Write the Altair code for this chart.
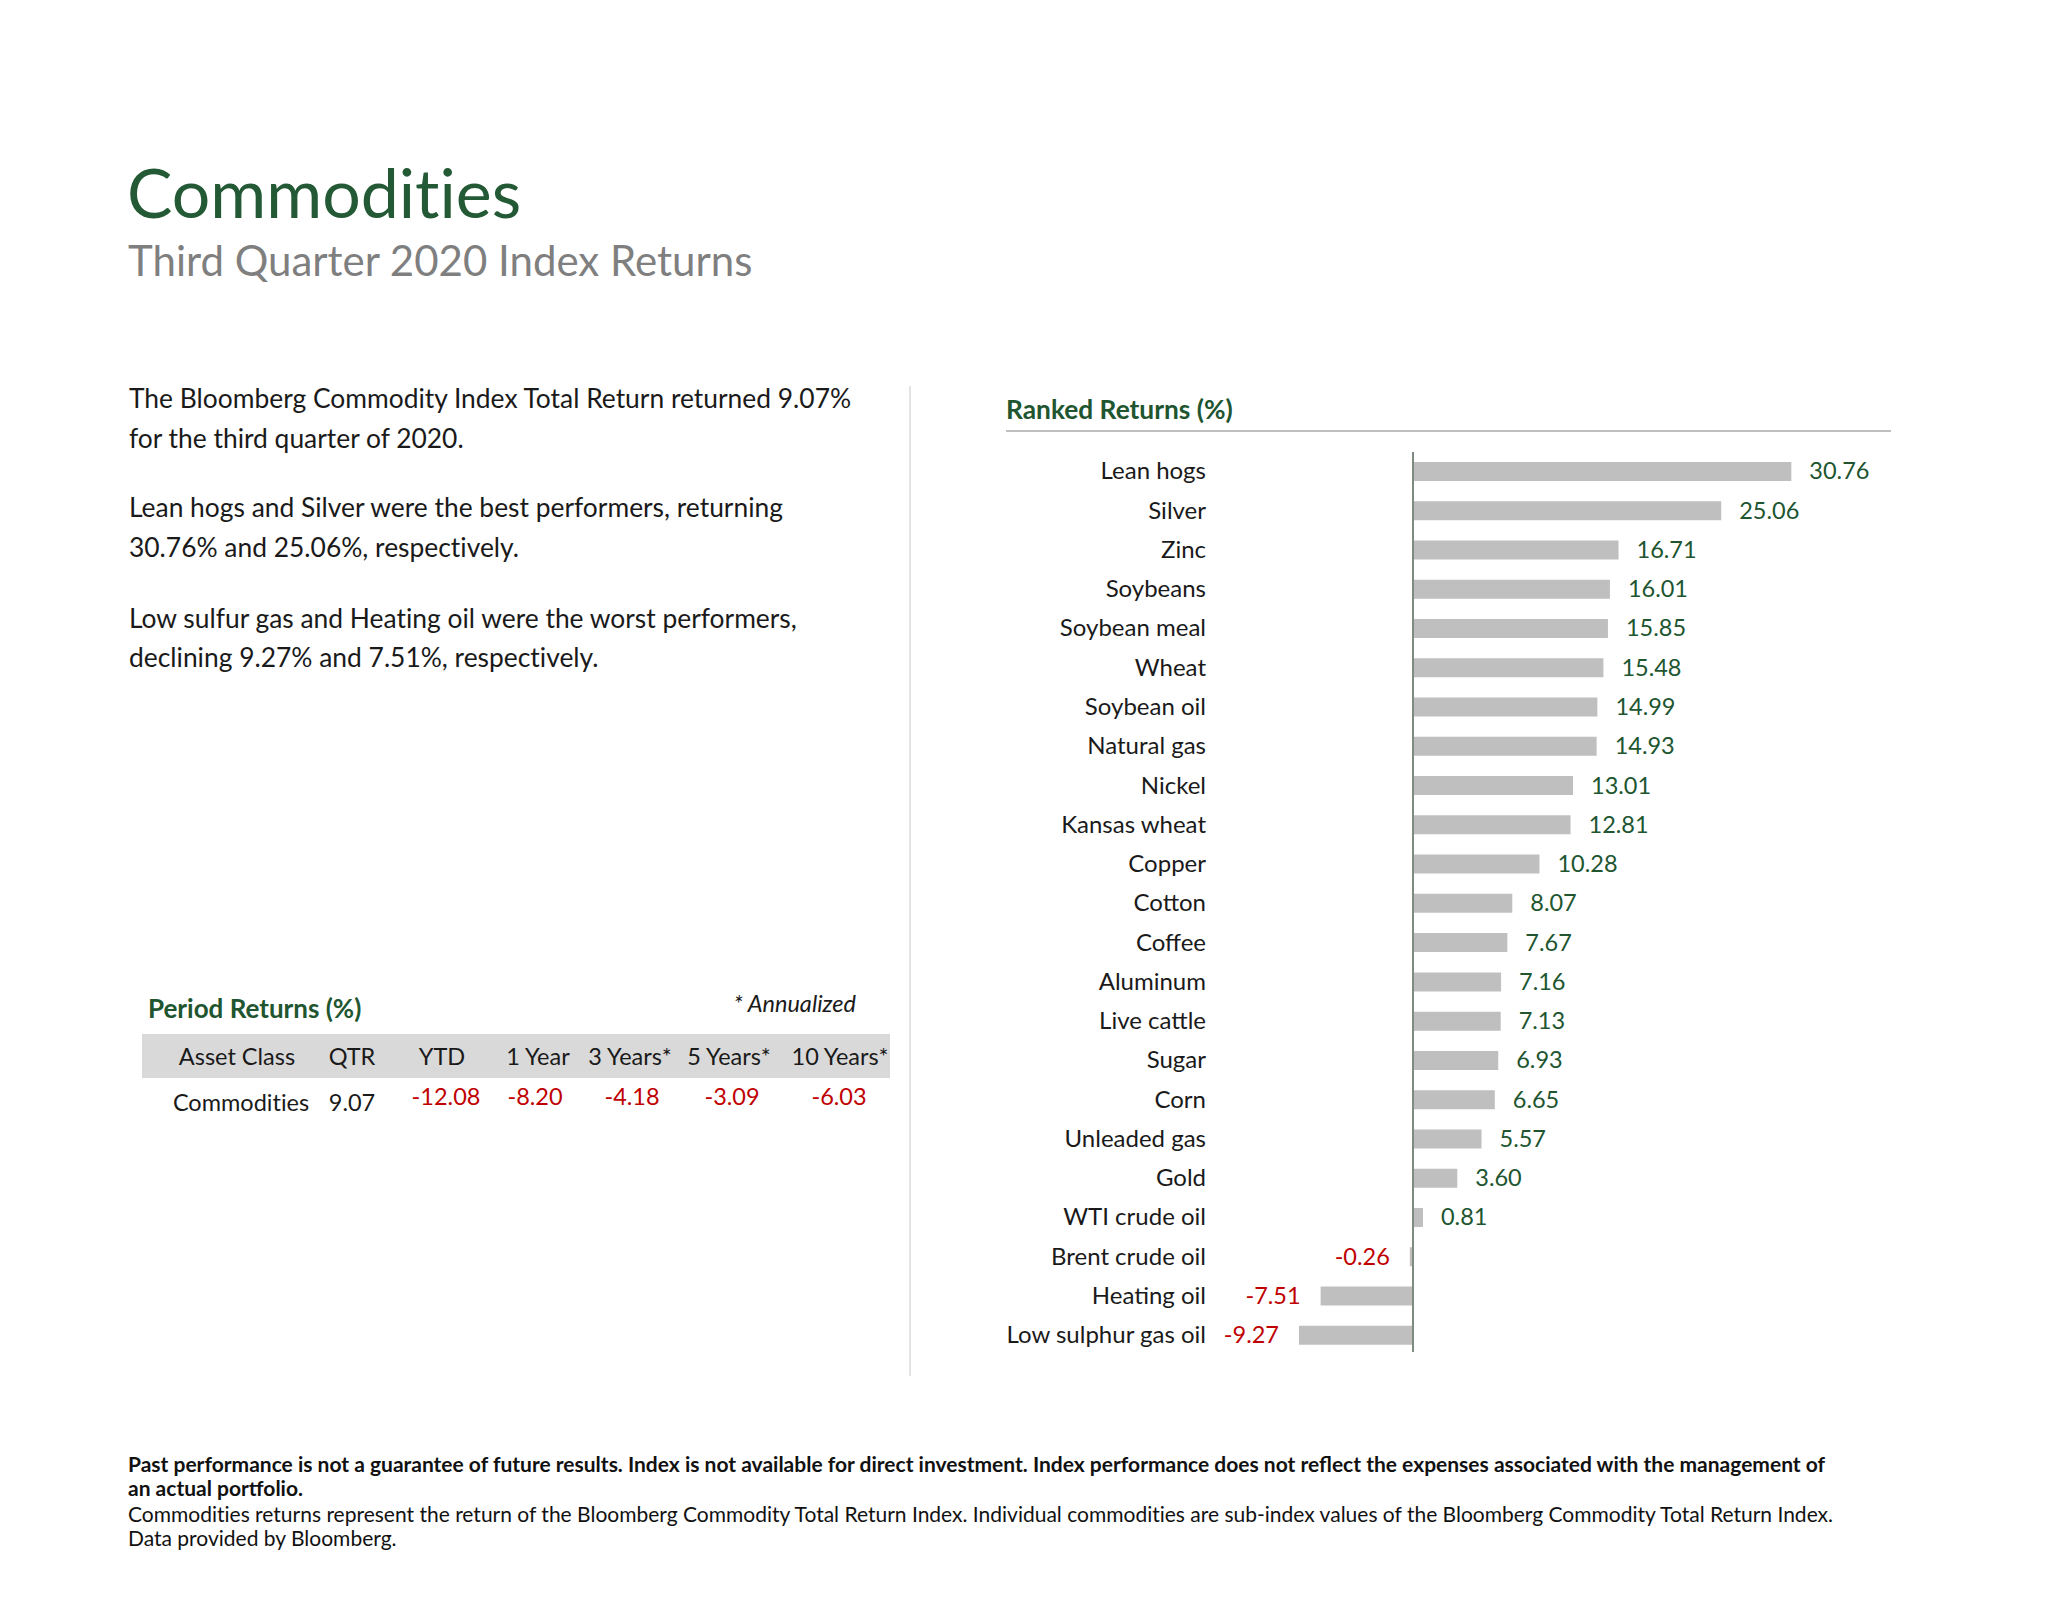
import altair as alt
import pandas as pd

# ---------------- data ----------------
commodities = ["Lean hogs", "Silver", "Zinc", "Soybeans", "Soybean meal", "Wheat",
               "Soybean oil", "Natural gas", "Nickel", "Kansas wheat", "Copper",
               "Cotton", "Coffee", "Aluminum", "Live cattle", "Sugar", "Corn",
               "Unleaded gas", "Gold", "WTI crude oil", "Brent crude oil",
               "Heating oil", "Low sulphur gas oil"]
returns = [30.76, 25.06, 16.71, 16.01, 15.85, 15.48, 14.99, 14.93, 13.01, 12.81,
           10.28, 8.07, 7.67, 7.16, 7.13, 6.93, 6.65, 5.57, 3.60, 0.81, -0.26,
           -7.51, -9.27]

period_cols = ["Asset Class", "QTR", "YTD", "1 Year", "3 Years*", "5 Years*", "10 Years*"]
period_asset = "Commodities"
period_vals = [9.07, -12.08, -8.20, -4.18, -3.09, -6.03]

title = "Commodities"
subtitle = "Third Quarter 2020 Index Returns"
body_lines = [
    "The Bloomberg Commodity Index Total Return returned 9.07%",
    "for the third quarter of 2020.",
    "Lean hogs and Silver were the best performers, returning",
    "30.76% and 25.06%, respectively.",
    "Low sulfur gas and Heating oil were the worst performers,",
    "declining 9.27% and 7.51%, respectively.",
]
footer_bold = [
    "Past performance is not a guarantee of future results. Index is not available for direct investment. Index performance does not reflect the expenses associated with the management of",
    "an actual portfolio.",
]
footer_plain = [
    "Commodities returns represent the return of the Bloomberg Commodity Total Return Index. Individual commodities are sub-index values of the Bloomberg Commodity Total Return Index.",
    "Data provided by Bloomberg.",
]

# ---------------- style ----------------
FONT = "Lato"
GREEN = "#20552f"
RED = "#c00000"
GRAY_TXT = "#7f7f7f"
BAR = "#bfbfbf"
TXT = "#1a1a1a"
W, H = 2040, 1570
ZWNJ = "\u200c"


def nolig(s):
    # break the Lato "ti" ligature so the text renders like the reference
    return s.replace("ti", "t" + ZWNJ + "i")


def txt(s, x, y, size, color=TXT, weight="normal", align="left", style="normal"):
    return alt.Chart(pd.DataFrame({"t": [nolig(s)]})).mark_text(
        align=align, baseline="alphabetic", font=FONT, fontSize=size,
        fontWeight=weight, fontStyle=style, color=color
    ).encode(x=alt.value(x), y=alt.value(y), text="t:N")


def hline(x1, x2, y, color, w):
    return alt.Chart(pd.DataFrame({"a": [0]})).mark_rule(color=color, strokeWidth=w).encode(
        x=alt.value(x1), x2=alt.value(x2), y=alt.value(y))


def vline(x, y1, y2, color, w):
    return alt.Chart(pd.DataFrame({"a": [0]})).mark_rule(color=color, strokeWidth=w).encode(
        x=alt.value(x), y=alt.value(y1), y2=alt.value(y2))


layers = []

# titles
layers.append(txt(title, 119, 210, 68, color="#235934"))
layers.append(txt(subtitle, 120, 268, 42, color=GRAY_TXT))

# body paragraphs
body_y = [400, 440, 509, 549, 620, 659]
for line, y in zip(body_lines, body_y):
    layers.append(txt(line, 121, y, 26.4))

# divider + ranked header
layers.append(vline(902, 378, 1368, "#c8c8c8", 1))
layers.append(txt("Ranked Returns (%)", 998, 411, 26.3, color=GREEN, weight="bold"))
layers.append(hline(998, 1883, 423, "#bfbfbf", 2))

# ---------------- ranked bar chart ----------------
df = pd.DataFrame({"commodity": commodities, "ret": returns})
df["label"] = [f"{v:.2f}" for v in returns]

ZERO = 1405
PX = 12.3
xscale = alt.Scale(domain=[-10, 40], range=[ZERO - 10 * PX, ZERO + 40 * PX])
yscale = alt.Scale(domain=commodities, range=[443.8, 1346.9], paddingInner=0.516, paddingOuter=0.258)

X = alt.X("ret:Q", scale=xscale, axis=None)
Y = alt.Y("commodity:N", scale=yscale, axis=None)

bars = alt.Chart(df).mark_bar(color=BAR).encode(x=X, y=Y)
zero_rule = alt.Chart(pd.DataFrame({"ret": [0]})).mark_rule(color="#7f8b80", strokeWidth=2).encode(
    x=X, y=alt.value(444), y2=alt.value(1344))
cat_labels = alt.Chart(df).mark_text(align="right", baseline="middle", font=FONT,
                                     fontSize=24, color=TXT, dy=1).encode(
    x=alt.value(1198), y=Y, text="commodity:N")
pos_labels = alt.Chart(df).transform_filter("datum.ret >= 0").mark_text(
    align="left", baseline="middle", font=FONT, fontSize=23.5, color=GREEN, dx=18, dy=1).encode(
    x=X, y=Y, text="label:N")
neg_labels = alt.Chart(df).transform_filter("datum.ret < 0").mark_text(
    align="right", baseline="middle", font=FONT, fontSize=23.5, color=RED, dx=-20, dy=1).encode(
    x=X, y=Y, text="label:N")

layers += [bars, zero_rule, cat_labels, pos_labels, neg_labels]

# ---------------- period returns table ----------------
layers.append(txt("Period Returns (%)", 140, 1010, 26, color=GREEN, weight="bold"))
layers.append(txt("* Annualized", 848, 1004, 23.5, color=TXT, style="italic", align="right"))
layers.append(alt.Chart(pd.DataFrame({"a": [0]})).mark_rect(color="#d9d9d9").encode(
    x=alt.value(134), x2=alt.value(882), y=alt.value(1026), y2=alt.value(1070)))

col_x = [229, 344, 434, 530, 622, 721, 832]
val_x = [344, 438, 527, 624, 724, 831]
for c, x in zip(period_cols, col_x):
    layers.append(txt(c, x, 1057, 23.5, align="center"))
layers.append(txt(period_asset, col_x[0] + 4, 1103, 23.5, align="center"))
for v, x in zip(period_vals, val_x):
    col = RED if v < 0 else TXT
    yy = 1097 if v < 0 else 1103
    layers.append(txt(f"{v:.2f}", x, yy, 23.5, color=col, align="center"))

# ---------------- footer ----------------
foot_y = [1464, 1488, 1514, 1538]
for line, y in zip(footer_bold, foot_y[:2]):
    layers.append(txt(line, 120, y, 21, weight="bold", color="#111111"))
for line, y in zip(footer_plain, foot_y[2:]):
    layers.append(txt(line, 120, y, 21, color="#111111"))

chart = alt.layer(*layers).properties(
    width=W, height=H, padding=0, autosize=alt.AutoSizeParams(type="none"),
    background="white"
).configure_view(stroke=None)

chart.save("out.html", embed_options={"renderer": "svg", "actions": False})
